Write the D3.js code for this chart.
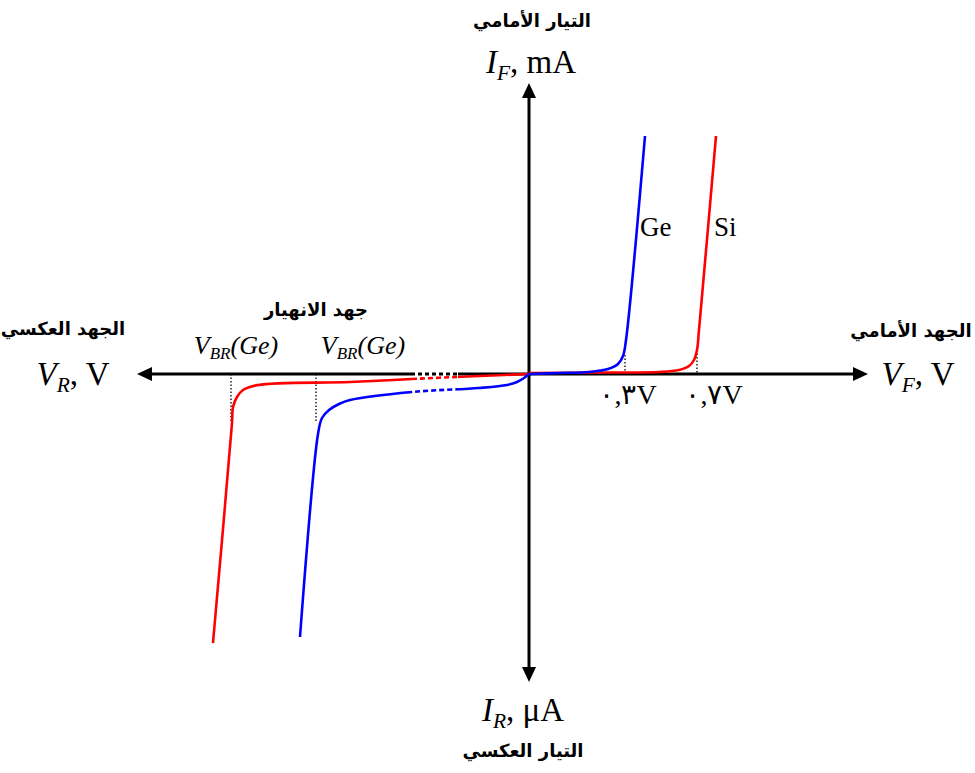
<!DOCTYPE html>
<html>
<head>
<meta charset="utf-8">
<script src="https://cdn.jsdelivr.net/npm/d3@7"></script>
<style>
  body { margin: 0; background: #fff; }
  svg { display: block; }
</style>
</head>
<body>
<div id="chart"></div>
<script>
// schematic units: 1 unit = 100 px on both axes
const siForward = [[0, 0.01], [0.8, 0.015], [1.3, 0.02], [1.5, 0.04], [1.6, 0.08], [1.65, 0.14], [1.68, 0.24], [1.70, 0.44], [1.87, 2.38]];
const geForward = [[0, 0.0], [0.3, 0.01], [0.6, 0.02], [0.79, 0.05], [0.89, 0.10], [0.94, 0.18], [0.97, 0.34], [1.16, 2.38]];
const siReverse = [[0, 0], [-0.5, -0.02], [-1.17, -0.05], [-1.79, -0.08], [-2.71, -0.11], [-2.86, -0.16], [-2.92, -0.23], [-2.96, -0.33], [-2.97, -0.49], [-3.16, -2.69]];
const geReverse = [[0, 0], [-0.05, -0.04], [-0.12, -0.08], [-0.22, -0.11], [-0.5, -0.14], [-1.17, -0.18], [-1.79, -0.26], [-1.9, -0.30], [-2.0, -0.36], [-2.07, -0.44], [-2.11, -0.60], [-2.29, -2.63]];

// dotted guide lines [x, yFrom, yTo]
const guides = [[0.96, 0.19, 0], [1.68, 0.24, 0], [-2.98, 0, -0.48], [-2.13, 0, -0.48]];
const brokenRange = [-1.17, -0.71];

const forwardTicks = ["٠,٣V", "٠,٧V"];
const materials = ["Ge", "Si"];
const arabic = {
  ifTitle: "التيار الأمامي",
  irTitle: "التيار العكسي",
  vrTitle: "الجهد العكسي",
  vfTitle: "الجهد الأمامي",
  breakdown: "جهد الانهيار"
};

const width = 975, height = 773;
const x = d3.scaleLinear().domain([-3.92, 3.39]).range([137, 868]);
const y = d3.scaleLinear().domain([-3.08, 2.91]).range([682, 83]);

const svg = d3.select('#chart').append('svg')
  .attr('width', width)
  .attr('height', height);

const defs = svg.append('defs');
defs.append('clipPath').attr('id', 'solidPart')
  .selectAll('rect')
  .data([[0, x(brokenRange[0])], [x(brokenRange[1]), width]])
  .join('rect')
  .attr('x', d => d[0]).attr('y', 0)
  .attr('width', d => d[1] - d[0]).attr('height', height);
defs.append('clipPath').attr('id', 'dashPart')
  .append('rect')
  .attr('x', x(brokenRange[0])).attr('y', 0)
  .attr('width', x(brokenRange[1]) - x(brokenRange[0])).attr('height', height);

const line = d3.line()
  .x(d => x(d[0]))
  .y(d => y(d[1]))
  .curve(d3.curveCatmullRom.alpha(0.5));

// axes
const axisH = [[-3.77, 0], [3.24, 0]];
const axisV = [[0, -2.93], [0, 2.76]];
[axisH, axisV].forEach(a => {
  ['solidPart', 'dashPart'].forEach(c => {
    svg.append('path')
      .attr('d', d3.line().x(d => x(d[0])).y(d => y(d[1]))(a))
      .attr('stroke', '#000')
      .attr('stroke-width', 3)
      .attr('fill', 'none')
      .attr('stroke-dasharray', c === 'dashPart' ? '4,3' : null)
      .attr('clip-path', `url(#${c})`);
  });
});

// arrow heads
const arrowLen = 15, arrowHalf = 7;
const heads = [
  { tip: [x(-3.92), y(0)], dir: [-1, 0] },
  { tip: [x(3.39), y(0)], dir: [1, 0] },
  { tip: [x(0), y(2.91)], dir: [0, -1] },
  { tip: [x(0), y(-3.08)], dir: [0, 1] }
];
svg.append('g').selectAll('path')
  .data(heads)
  .join('path')
  .attr('d', h => {
    const [tx, ty] = h.tip, [dx, dy] = h.dir;
    const bx = tx - dx * arrowLen, by = ty - dy * arrowLen;
    return `M${tx},${ty}L${bx - dy * arrowHalf},${by + dx * arrowHalf}L${bx + dy * arrowHalf},${by - dx * arrowHalf}Z`;
  })
  .attr('fill', '#000');

// dotted guides
svg.append('g').selectAll('line')
  .data(guides)
  .join('line')
  .attr('x1', d => x(d[0])).attr('x2', d => x(d[0]))
  .attr('y1', d => y(d[1])).attr('y2', d => y(d[2]))
  .attr('stroke', '#000')
  .attr('stroke-width', 1.3)
  .attr('stroke-dasharray', '1.5,2');

// curves (red under blue)
const curves = [
  { data: siForward, color: '#ff0000' },
  { data: siReverse, color: '#ff0000' },
  { data: geReverse, color: '#0000ff' },
  { data: geForward, color: '#0000ff' }
];
curves.forEach(c => {
  ['solidPart', 'dashPart'].forEach(part => {
    svg.append('path')
      .attr('d', line(c.data))
      .attr('fill', 'none')
      .attr('stroke', c.color)
      .attr('stroke-width', 2.6)
      .attr('stroke-dasharray', part === 'dashPart' ? '5,3' : null)
      .attr('clip-path', `url(#${part})`);
  });
});

// text
const serif = '"Liberation Serif", "Times New Roman", serif';
const arabicFont = '"DejaVu Sans", sans-serif';

function arabicText(tx, ty, str) {
  svg.append('text')
    .attr('x', tx).attr('y', ty)
    .attr('text-anchor', 'middle')
    .style('font-family', arabicFont)
    .style('font-size', '18px')
    .style('font-weight', 'bold')
    .text(str);
}

function symText(tx, ty, main, sub, rest, size) {
  const t = svg.append('text')
    .attr('x', tx).attr('y', ty)
    .attr('text-anchor', 'middle')
    .style('font-family', serif)
    .style('font-size', size + 'px');
  t.append('tspan').style('font-style', 'italic').text(main);
  t.append('tspan').style('font-style', 'italic')
    .style('font-size', (size * 0.65) + 'px')
    .attr('dy', size * 0.2).text(sub);
  t.append('tspan').attr('dy', -size * 0.2).text(rest);
  return t;
}

arabicText(x(0) + 3, 27, arabic.ifTitle);
symText(x(0) + 2, 73, 'I', 'F', ', mA', 33);
symText(x(0) - 6, 721, 'I', 'R', ', μA', 33);
arabicText(x(0) - 6, 757, arabic.irTitle);

arabicText(63, 335, arabic.vrTitle);
symText(73, 385, 'V', 'R', ', V', 33);
arabicText(911, 337, arabic.vfTitle);
symText(918, 385, 'V', 'F', ', V', 33);

arabicText(316, 316, arabic.breakdown);
[236, 363].forEach(px => {
  const t = svg.append('text')
    .attr('x', px).attr('y', 354)
    .attr('text-anchor', 'middle')
    .style('font-family', serif)
    .style('font-size', '26px')
    .style('font-style', 'italic');
  t.append('tspan').text('V');
  t.append('tspan').style('font-size', '17px').attr('dy', 5).text('BR');
  t.append('tspan').attr('dy', -5).text('(Ge)');
});

svg.append('g').selectAll('text')
  .data(forwardTicks)
  .join('text')
  .attr('x', (d, i) => i === 0 ? 628 : 714)
  .attr('y', 404)
  .attr('text-anchor', 'middle')
  .style('font-family', serif)
  .style('font-size', '28px')
  .text(d => d);

svg.append('g').selectAll('text')
  .data(materials)
  .join('text')
  .attr('x', (d, i) => i === 0 ? 640 : 714)
  .attr('y', 236)
  .style('font-family', serif)
  .style('font-size', '27px')
  .text(d => d);
</script>
</body>
</html>
